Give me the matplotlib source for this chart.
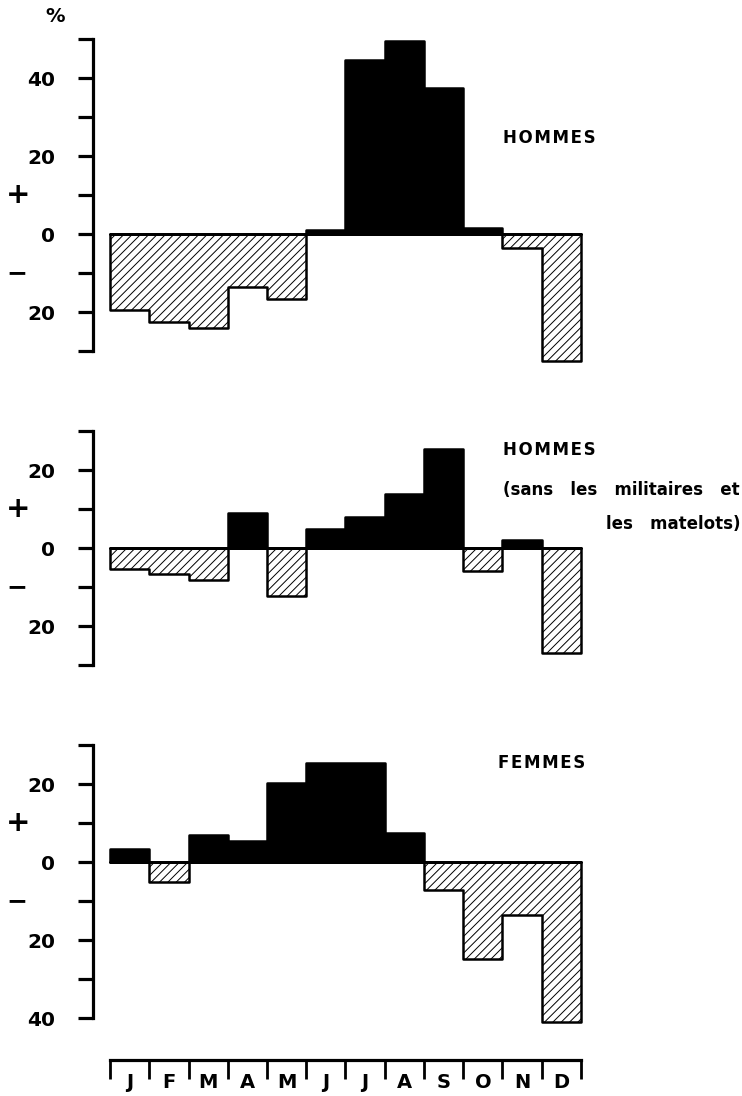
import numpy as np
import matplotlib
matplotlib.use("Agg")
import matplotlib.pyplot as plt
from matplotlib.transforms import blended_transform_factory

# monthly deviation from the mean, in %
months = ["J", "F", "M", "A", "M", "J", "J", "A", "S", "O", "N", "D"]
hommes = [-19.5, -22.5, -24, -13.6, -16.7, 1, 44.6, 49.5, 37.4, 1.5, -3.5, -32.5]
hommes_civils = [-5.3, -6.6, -8.1, 9, -12.3, 5, 7.9, 13.9, 25.3, -5.9, 2.1, -26.9]
femmes = [3.3, -5.2, 6.8, 5.4, 20.3, 25.4, 25.4, 7.4, -7.3, -24.8, -13.6, -40.9]

W, H = 742, 1096
plt.rcParams['font.family'] = ['DejaVu Sans']
plt.rcParams['font.weight'] = 'bold'
plt.rcParams['hatch.linewidth'] = 0.7

fig = plt.figure(figsize=(W / 100, H / 100), dpi=100)

# x mapping: month edge 0 at px 110, edge 12 at px 581
px_per_month = (581 - 110) / 12
ax_left = 93
x_lo = -(110 - ax_left) / px_per_month
x_hi = x_lo + (W - ax_left) / px_per_month


def add_panel(vals, zero_px, ylim, spine, ticks, labels):
    ppu = 3.9
    top_px = zero_px - ylim[1] * ppu
    bot_px = zero_px - ylim[0] * ppu
    ax = fig.add_axes([ax_left / W, 1 - bot_px / H, (W - ax_left) / W, (bot_px - top_px) / H])
    ax.set_xlim(x_lo, x_hi)
    ax.set_ylim(*ylim)

    v = np.array(vals, dtype=float)
    edges = np.arange(13)
    pos = np.append(np.clip(v, 0, None), max(v[-1], 0))
    neg = np.append(np.clip(v, None, 0), min(v[-1], 0))
    ax.fill_between(edges, 0, neg, step='post', facecolor='white',
                    edgecolor='black', hatch='////', linewidth=1.8, zorder=2)
    ax.fill_between(edges, 0, pos, step='post', facecolor='black',
                    edgecolor='black', linewidth=1.8, zorder=3)

    for s in ['top', 'right', 'bottom']:
        ax.spines[s].set_visible(False)
    ax.spines['left'].set_linewidth(2.3)
    ax.spines['left'].set_bounds(*spine)
    ax.set_xticks([])
    ax.set_yticks(ticks)
    ax.set_yticklabels(labels)
    ax.tick_params(axis='y', direction='out', length=11, width=2.3, pad=16,
                   labelsize=14.5)
    for t in ax.get_yticklabels():
        t.set_fontweight('bold')

    tr = blended_transform_factory(fig.transFigure, ax.transData)
    ax.text(18 / W, 10, '+', transform=tr, ha='center', va='center',
            fontsize=21, fontweight='bold')
    ax.text(17 / W, -10, '\u2212', transform=tr, ha='center', va='center',
            fontsize=18, fontweight='bold')
    return ax


add_panel(hommes, 234, (-34, 52), (-30, 50), list(range(-30, 51, 10)),
          ['', '20', '', '0', '', '20', '', '40', ''])
add_panel(hommes_civils, 548, (-32, 32), (-30, 30), list(range(-30, 31, 10)),
          ['', '20', '', '0', '', '20', ''])
add_panel(femmes, 862, (-43, 32), (-40, 30), list(range(-40, 31, 10)),
          ['40', '', '20', '', '0', '', '20', ''])

# month scale at the bottom
xa = fig.add_axes([ax_left / W, 1 - 1070 / H, (W - ax_left) / W, 10 / H])
xa.set_xlim(x_lo, x_hi)
xa.set_ylim(0, 1)
for s in ['left', 'right', 'bottom']:
    xa.spines[s].set_visible(False)
xa.spines['top'].set_linewidth(2.3)
xa.spines['top'].set_bounds(0, 12)
xa.set_yticks([])
xa.set_xticks(np.arange(13))
xa.set_xticks(np.arange(12) + 0.5, minor=True)
xa.set_xticklabels(months, minor=True)
xa.tick_params(axis='x', which='major', top=True, bottom=False, direction='in',
               length=14, width=2, labeltop=False, labelbottom=False)
xa.tick_params(axis='x', which='minor', top=False, bottom=False, length=0,
               labelbottom=True, pad=2, labelsize=14)
for t in xa.get_xticklabels(minor=True):
    t.set_fontweight('bold')

def ftext(px, py, s, **kw):
    fig.text(px / W, 1 - py / H, s, fontweight='bold', **kw)

hs = '\u200a'
ftext(55, 17, '%', ha='center', va='center', fontsize=14)
ftext(503, 138, hs.join('HOMMES'), ha='left', va='center', fontsize=12)
ftext(503, 450, hs.join('HOMMES'), ha='left', va='center', fontsize=12)
ftext(503, 490, '(sans   les   militaires   et', ha='left', va='center', fontsize=12)
ftext(740, 524, 'les   matelots)', ha='right', va='center', fontsize=12)
ftext(498, 763, hs.join('FEMMES'), ha='left', va='center', fontsize=12)

fig.savefig('out.png', dpi=100)
